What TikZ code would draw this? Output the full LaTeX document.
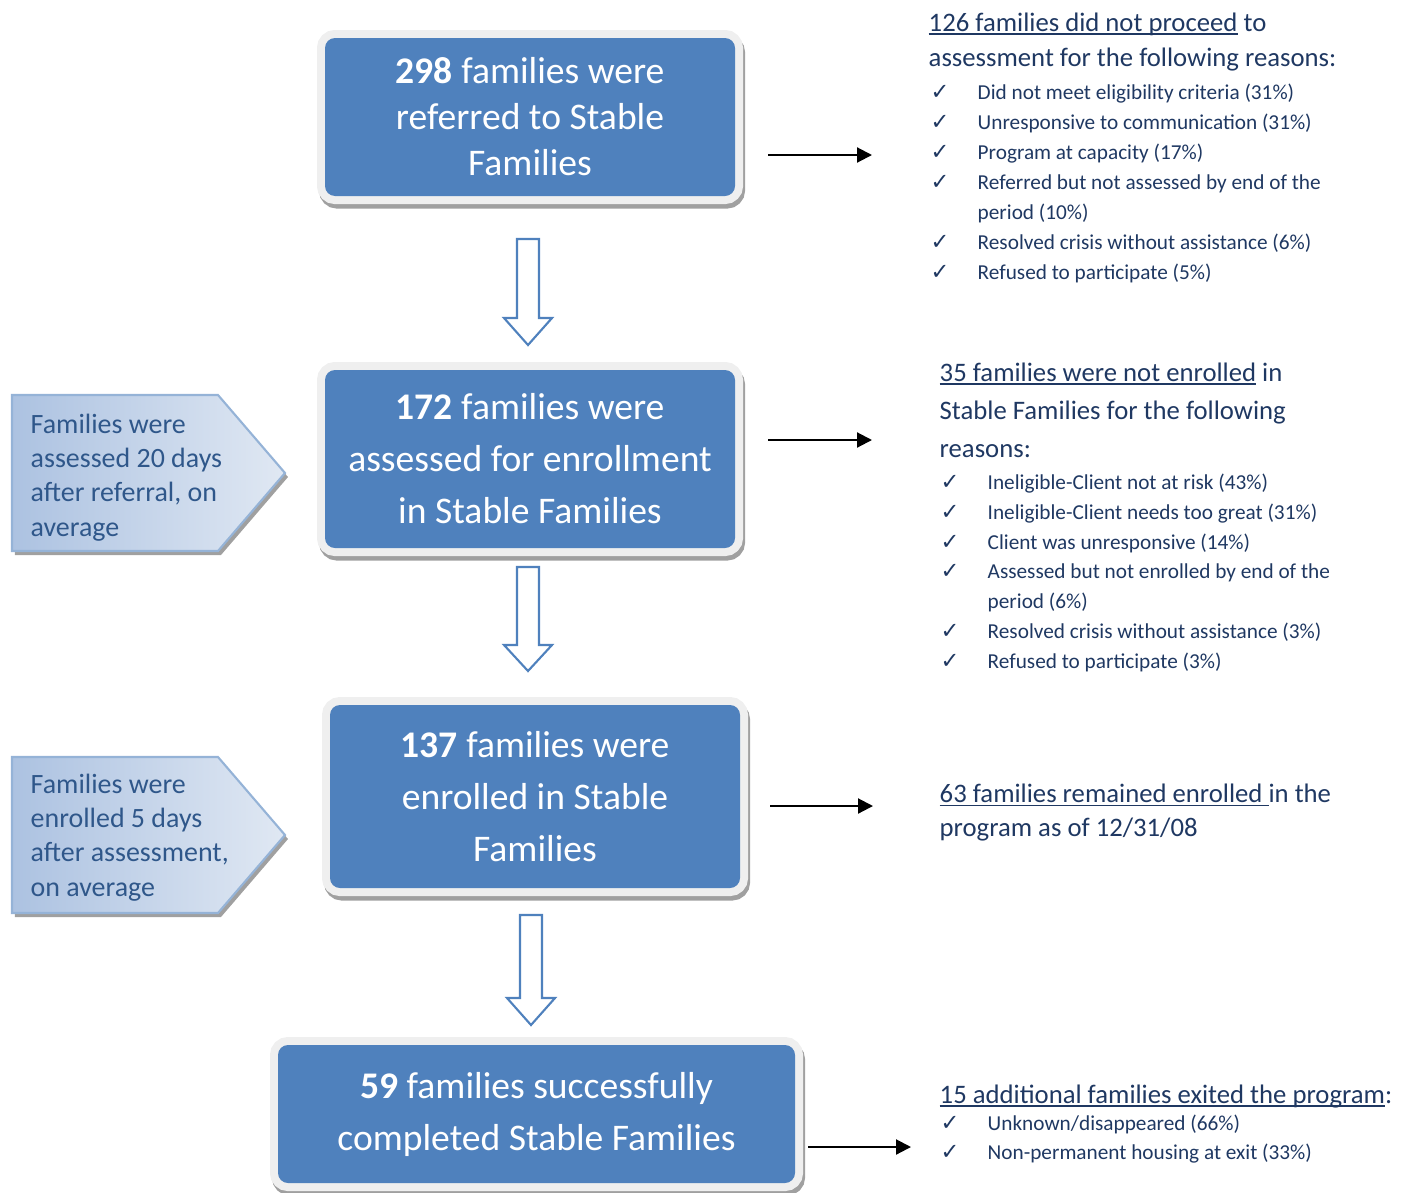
\documentclass[tikz,border=0pt]{standalone}
\usepackage{fontspec}
\setmainfont{Carlito}
\newfontfamily\symfont{DejaVu Sans}
\usetikzlibrary{arrows.meta}

\definecolor{boxblue}{RGB}{79,129,189}
\definecolor{ringgray}{RGB}{239,239,239}
\definecolor{shadowgray}{RGB}{160,160,160}
\definecolor{navy}{RGB}{31,56,98}
\definecolor{notetext}{RGB}{47,87,138}
\definecolor{notedark}{RGB}{172,194,225}
\definecolor{notelight}{RGB}{224,232,243}
\definecolor{noteborder}{RGB}{149,179,215}

\newsavebox{\ulbox}
\newcommand{\uln}[1]{\sbox{\ulbox}{#1}\rlap{\rule[-1.0pt]{\wd\ulbox}{0.5pt}}\usebox{\ulbox}}
\newcommand{\chk}{\makebox[0.47cm][l]{\symfont\fontsize{6.4pt}{6.4pt}\selectfont ✓}}
\newcommand{\nochk}{\makebox[0.47cm]{}}

\begin{document}
\begin{tikzpicture}
\tikzstyle{stagebox}=[rectangle,rounded corners=0.1cm,fill=boxblue,text=white,align=center,
  font=\fontsize{10.7pt}{14.8pt}\selectfont,
  preaction={draw=shadowgray,line width=0.16cm,transform canvas={shift={(0.02,-0.045)}}},
  preaction={draw=ringgray,line width=0.16cm}]
\tikzstyle{hollow}=[draw=boxblue,fill=white,line width=0.6pt,line join=miter]
\tikzstyle{flow}=[-{Triangle[length=0.15cm,width=0.15cm]},line width=0.6pt]
\tikzstyle{lagshape}=[draw=noteborder,line width=0.6pt,left color=notedark,right color=notelight,
  preaction={fill=shadowgray,transform canvas={shift={(0.03,-0.04)}}}]
\tikzstyle{lagtext}=[text=notetext,align=left,inner sep=0pt,font=\fontsize{7.95pt}{9.7pt}\selectfont]
\tikzstyle{head}=[text=navy,align=left,inner sep=0pt,font=\fontsize{7.6pt}{10.2pt}\selectfont]
\tikzstyle{reason}=[text=navy,align=left,inner sep=0pt,font=\fontsize{6.05pt}{8.5pt}\selectfont]
\useasboundingbox (0,0) rectangle (14.09,-11.92);

\node [stagebox,minimum width=4.1cm,minimum height=1.58cm,font=\fontsize{10.7pt}{13.1pt}\selectfont] (refer) at (5.30,-1.17) {\textbf{298} families were\\referred to Stable\\Families};
\node [stagebox,minimum width=4.1cm,minimum height=1.78cm] (assess) at (5.30,-4.59) {\textbf{172} families were\\assessed for enrollment\\in Stable Families};
\node [stagebox,minimum width=4.1cm,minimum height=1.83cm] (enrol) at (5.35,-7.965) {\textbf{137} families were\\enrolled in Stable\\Families};
\node [stagebox,minimum width=5.17cm,minimum height=1.38cm] (done) at (5.365,-11.14) {\textbf{59} families successfully\\completed Stable Families};

\draw [hollow] (5.17,-2.39) -- (5.17,-3.18) -- (5.04,-3.18) -- (5.28,-3.45) -- (5.52,-3.18) -- (5.39,-3.18) -- (5.39,-2.39) -- cycle;
\draw [hollow] (5.17,-5.67) -- (5.17,-6.45) -- (5.04,-6.45) -- (5.28,-6.71) -- (5.52,-6.45) -- (5.39,-6.45) -- (5.39,-5.67) -- cycle;
\draw [hollow] (5.20,-9.15) -- (5.20,-9.98) -- (5.07,-9.98) -- (5.31,-10.25) -- (5.55,-9.98) -- (5.42,-9.98) -- (5.42,-9.15) -- cycle;

\draw [lagshape] (0.12,-3.95) -- (2.18,-3.95) -- (2.85,-4.73) -- (2.18,-5.51) -- (0.12,-5.51) -- cycle;
\node [lagtext,anchor=base west] (lag1) at (0.30,-5.36) {Families were\\assessed 20 days\\after referral, on\\average};
\draw [lagshape] (0.12,-7.57) -- (2.18,-7.57) -- (2.85,-8.35) -- (2.18,-9.13) -- (0.12,-9.13) -- cycle;
\node [lagtext,anchor=base west] (lag2) at (0.30,-8.96) {Families were\\enrolled 5 days\\after assessment,\\on average};

\coordinate (o1) at (7.68,-1.55);
\coordinate (r1) at (8.72,-1.55);
\coordinate (o2) at (7.68,-4.40);
\coordinate (r2) at (8.72,-4.40);
\coordinate (o3) at (7.70,-8.06);
\coordinate (r3) at (8.73,-8.06);
\coordinate (o4) at (8.08,-11.47);
\coordinate (r4) at (9.11,-11.47);
\draw [flow] (o1) -- (r1);
\draw [flow] (o2) -- (r2);
\draw [flow] (o3) -- (r3);
\draw [flow] (o4) -- (r4);

\node [head,anchor=base west] (h1) at (9.28,-0.67) {\uln{126 families did not proceed} to\\assessment for the following reasons:};
\node [reason,anchor=base west] (l1) at (9.30,-2.79) {\chk Did not meet eligibility criteria (31\%)\\
\chk Unresponsive to communication (31\%)\\
\chk Program at capacity (17\%)\\
\chk Referred but not assessed by end of the\\
\nochk period (10\%)\\
\chk Resolved crisis without assistance (6\%)\\
\chk Refused to participate (5\%)};

\node [head,anchor=base west,font=\fontsize{7.6pt}{10.8pt}\selectfont] (h2) at (9.39,-4.57) {\uln{35 families were not enrolled} in\\Stable Families for the following\\reasons:};
\node [reason,anchor=base west,font=\fontsize{6.05pt}{8.45pt}\selectfont] (l2) at (9.40,-6.68) {\chk Ineligible-Client not at risk (43\%)\\
\chk Ineligible-Client needs too great (31\%)\\
\chk Client was unresponsive (14\%)\\
\chk Assessed but not enrolled by end of the\\
\nochk period (6\%)\\
\chk Resolved crisis without assistance (3\%)\\
\chk Refused to participate (3\%)};

\node [head,anchor=base west,font=\fontsize{7.6pt}{9.4pt}\selectfont] (h3) at (9.39,-8.36) {\uln{63 families remained enrolled\ }in the\\program as of 12/31/08};

\node [head,anchor=base west] (h4) at (9.39,-11.03) {\uln{15 additional families exited the program}:};
\node [reason,anchor=base west,font=\fontsize{6.05pt}{8.25pt}\selectfont] (l4) at (9.40,-11.59) {\chk Unknown/disappeared (66\%)\\
\chk Non-permanent housing at exit (33\%)};
\end{tikzpicture}
\end{document}
